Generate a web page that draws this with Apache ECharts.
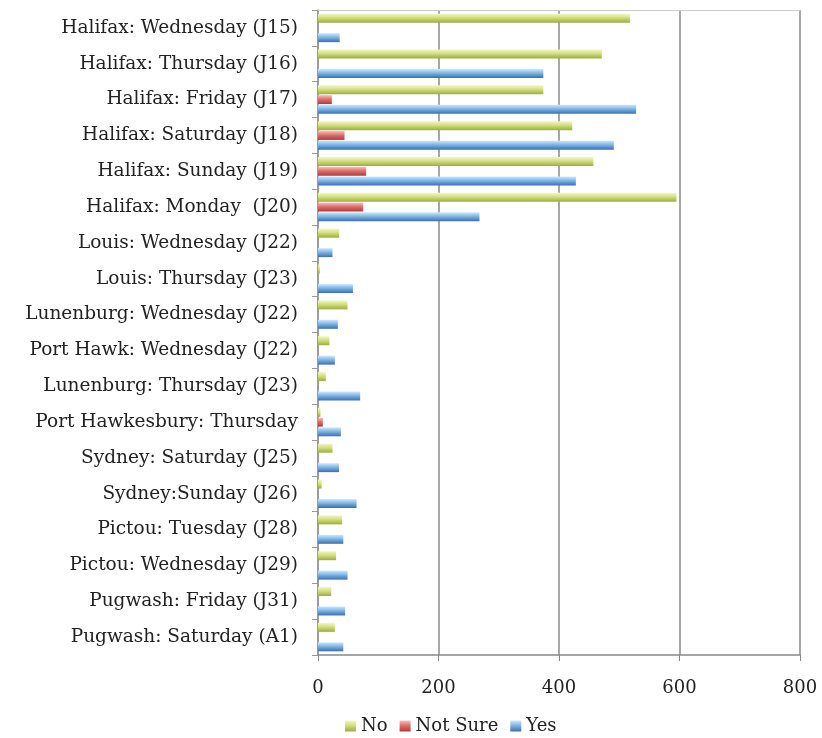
<!DOCTYPE html>
<html><head><meta charset="utf-8">
<script src="https://cdn.jsdelivr.net/npm/echarts@6/dist/echarts.min.js"></script>
<style>html,body{margin:0;padding:0;background:#fff}#c{width:822px;height:738px}</style>
</head><body><div id="c"></div>
<script>
const categories = [
  "Halifax: Wednesday (J15)", "Halifax: Thursday (J16)", "Halifax: Friday (J17)",
  "Halifax: Saturday (J18)", "Halifax: Sunday (J19)", "Halifax: Monday  (J20)",
  "Louis: Wednesday (J22)", "Louis: Thursday (J23)", "Lunenburg: Wednesday (J22)",
  "Port Hawk: Wednesday (J22)", "Lunenburg: Thursday (J23)", "Port Hawkesbury: Thursday",
  "Sydney: Saturday (J25)", "Sydney:Sunday (J26)", "Pictou: Tuesday (J28)",
  "Pictou: Wednesday (J29)", "Pugwash: Friday (J31)", "Pugwash: Saturday (A1)"
];
const noValues      = [518, 471, 374, 422, 457, 595, 35, 3, 49, 19, 13, 4, 24, 6, 40, 30, 22, 28];
const notSureValues = [0, 0, 23, 44, 80, 75, 0, 0, 0, 0, 0, 8, 0, 0, 0, 0, 0, 0];
const yesValues     = [36, 374, 528, 491, 428, 268, 24, 58, 33, 28, 70, 38, 35, 64, 42, 49, 45, 42];
const xTicks = [0, 200, 400, 600, 800];

const FONT = "DejaVu Serif";
function grad(top, mid, bot){
  return new echarts.graphic.LinearGradient(0,0,0,1,[{offset:0,color:top},{offset:0.45,color:mid},{offset:1,color:bot}]);
}
const chart = echarts.init(document.getElementById('c'), null, {renderer:'canvas'});
const barW = 9;
chart.setOption({
  animation:false,
  backgroundColor:'#fff',
  grid:{left:318, right:22, top:10, bottom:83, containLabel:false},
  legend:{
    left:340, bottom:-2, itemWidth:11, itemHeight:11, itemGap:12, icon:'rect',
    textStyle:{fontFamily:FONT, fontSize:18, color:'#222'},
    data:['No','Not Sure','Yes']
  },
  xAxis:[{
    type:'value', min:xTicks[0], max:xTicks[xTicks.length-1], interval:200,
    axisLine:{show:true, lineStyle:{color:'#888', width:1.5}},
    axisTick:{show:true, length:6, lineStyle:{color:'#888'}},
    axisLabel:{fontFamily:FONT, fontSize:18, color:'#222', margin:24},
    splitLine:{show:true, lineStyle:{color:'#8a8a8a', width:1.5}}
  },{
    type:'value', position:'top', min:0, max:800, interval:200,
    axisLine:{show:true, lineStyle:{color:'#ccc', width:1}},
    axisTick:{show:false}, axisLabel:{show:false}, splitLine:{show:false}
  }],
  yAxis:{
    type:'category', data:categories, inverse:true,
    axisLine:{show:true, lineStyle:{color:'#999', width:1.5}},
    axisTick:{show:true, length:6, lineStyle:{color:'#999'}},
    axisLabel:{fontFamily:FONT, fontSize:18.5, color:'#222', margin:20, interval:0}
  },
  series:[
    {name:'No', type:'bar', data:noValues, barWidth:barW, barGap:'8%', barCategoryGap:'25%',
     itemStyle:{color:grad('#f3f6c6','#d3de7e','#9bae3c')}},
    {name:'Not Sure', type:'bar', data:notSureValues, barWidth:barW,
     itemStyle:{color:grad('#f6c2bf','#e0706c','#b03a36')}},
    {name:'Yes', type:'bar', data:yesValues, barWidth:barW,
     itemStyle:{color:grad('#cfe9fb','#7fb6e6','#3d6fae')}}
  ]
});
</script></body></html>
